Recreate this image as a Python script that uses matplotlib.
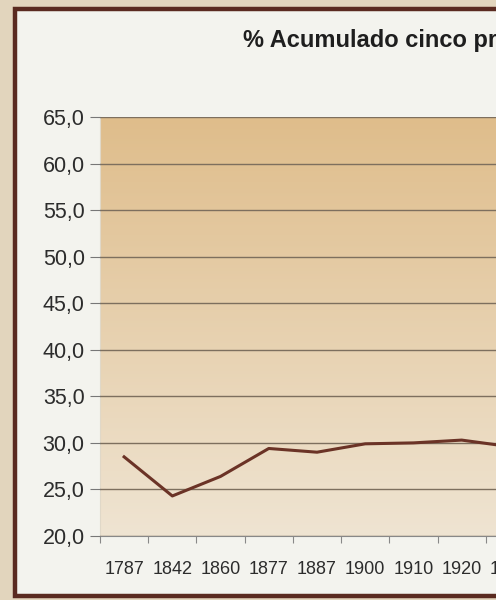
import numpy as np
import matplotlib.pyplot as plt
from matplotlib.colors import LinearSegmentedColormap
from matplotlib.patches import Rectangle

# data: accumulated share of the five first, by census year
years = ["1787", "1842", "1860", "1877", "1887", "1900", "1910", "1920", "1930"]
share = [28.5, 24.3, 26.4, 29.4, 29.0, 29.9, 30.0, 30.3, 29.6]
y_ticks = [20, 25, 30, 35, 40, 45, 50, 55, 60, 65]
title = "% Acumulado cinco primeros"

W, H = 496, 600
fig = plt.figure(figsize=(W / 100, H / 100), dpi=100)
fig.patch.set_facecolor("#e2d5bd")

# white card with dark brown frame, running off the right edge
fig.patches.append(Rectangle((15 / W, 4 / H), 1.2, (591 - 4) / H,
                             transform=fig.transFigure, facecolor="#f3f3ee",
                             edgecolor="#5a2a20", linewidth=3.2, zorder=0))

ax = fig.add_axes([100 / W, (H - 536) / H, 434 / W, (536 - 117) / H])
ax.set_zorder(2)
ax.set_facecolor("none")

# warm gradient background, darker at top
cmap = LinearSegmentedColormap.from_list("warm", ["#efe4d2", "#dfbd8b"])
grad = np.linspace(0, 1, 256).reshape(-1, 1)
ax.imshow(grad, extent=(-0.5, len(years) - 0.5, 20, 65), origin="lower",
          aspect="auto", cmap=cmap, zorder=0)

ax.set_xlim(-0.5, len(years) - 0.5)
ax.set_ylim(20, 65)
ax.set_yticks(y_ticks)
ax.set_yticklabels([f"{v:.1f}".replace(".", ",") for v in y_ticks],
                   fontsize=15.5, color="#2c2c2c", family=["Liberation Sans", "DejaVu Sans"])
ax.yaxis.grid(True, color="#7d6f5e", linewidth=1.0)
ax.set_axisbelow(False)
for g in ax.get_ygridlines():
    g.set_zorder(1)

x = np.arange(len(years))
ax.set_xticks(np.arange(len(years) + 1) - 0.5, minor=False)
ax.set_xticklabels([])
ax.set_xticks(x, minor=True)
ax.set_xticklabels(years, minor=True, fontsize=13,
                   color="#2c2c2c", family=["Liberation Sans", "DejaVu Sans"])
ax.tick_params(axis="x", which="minor", length=0, pad=18)
ax.tick_params(axis="x", which="major", length=5, color="#888888")
ax.tick_params(axis="y", length=7, color="#777777", pad=4)

for s in ["top", "right"]:
    ax.spines[s].set_visible(False)
ax.spines["left"].set_color("#e0d8c8")
ax.spines["bottom"].set_color("#888888")

ax.plot(x, share, color="#6b3326", linewidth=2.2, zorder=3)

fig.text(243 / W, 1 - 41 / H, title, fontsize=17, fontweight="bold",
         ha="left", va="center", color="#1e1e1e", family=["Liberation Sans", "DejaVu Sans"])

fig.savefig("out.png", dpi=100)
